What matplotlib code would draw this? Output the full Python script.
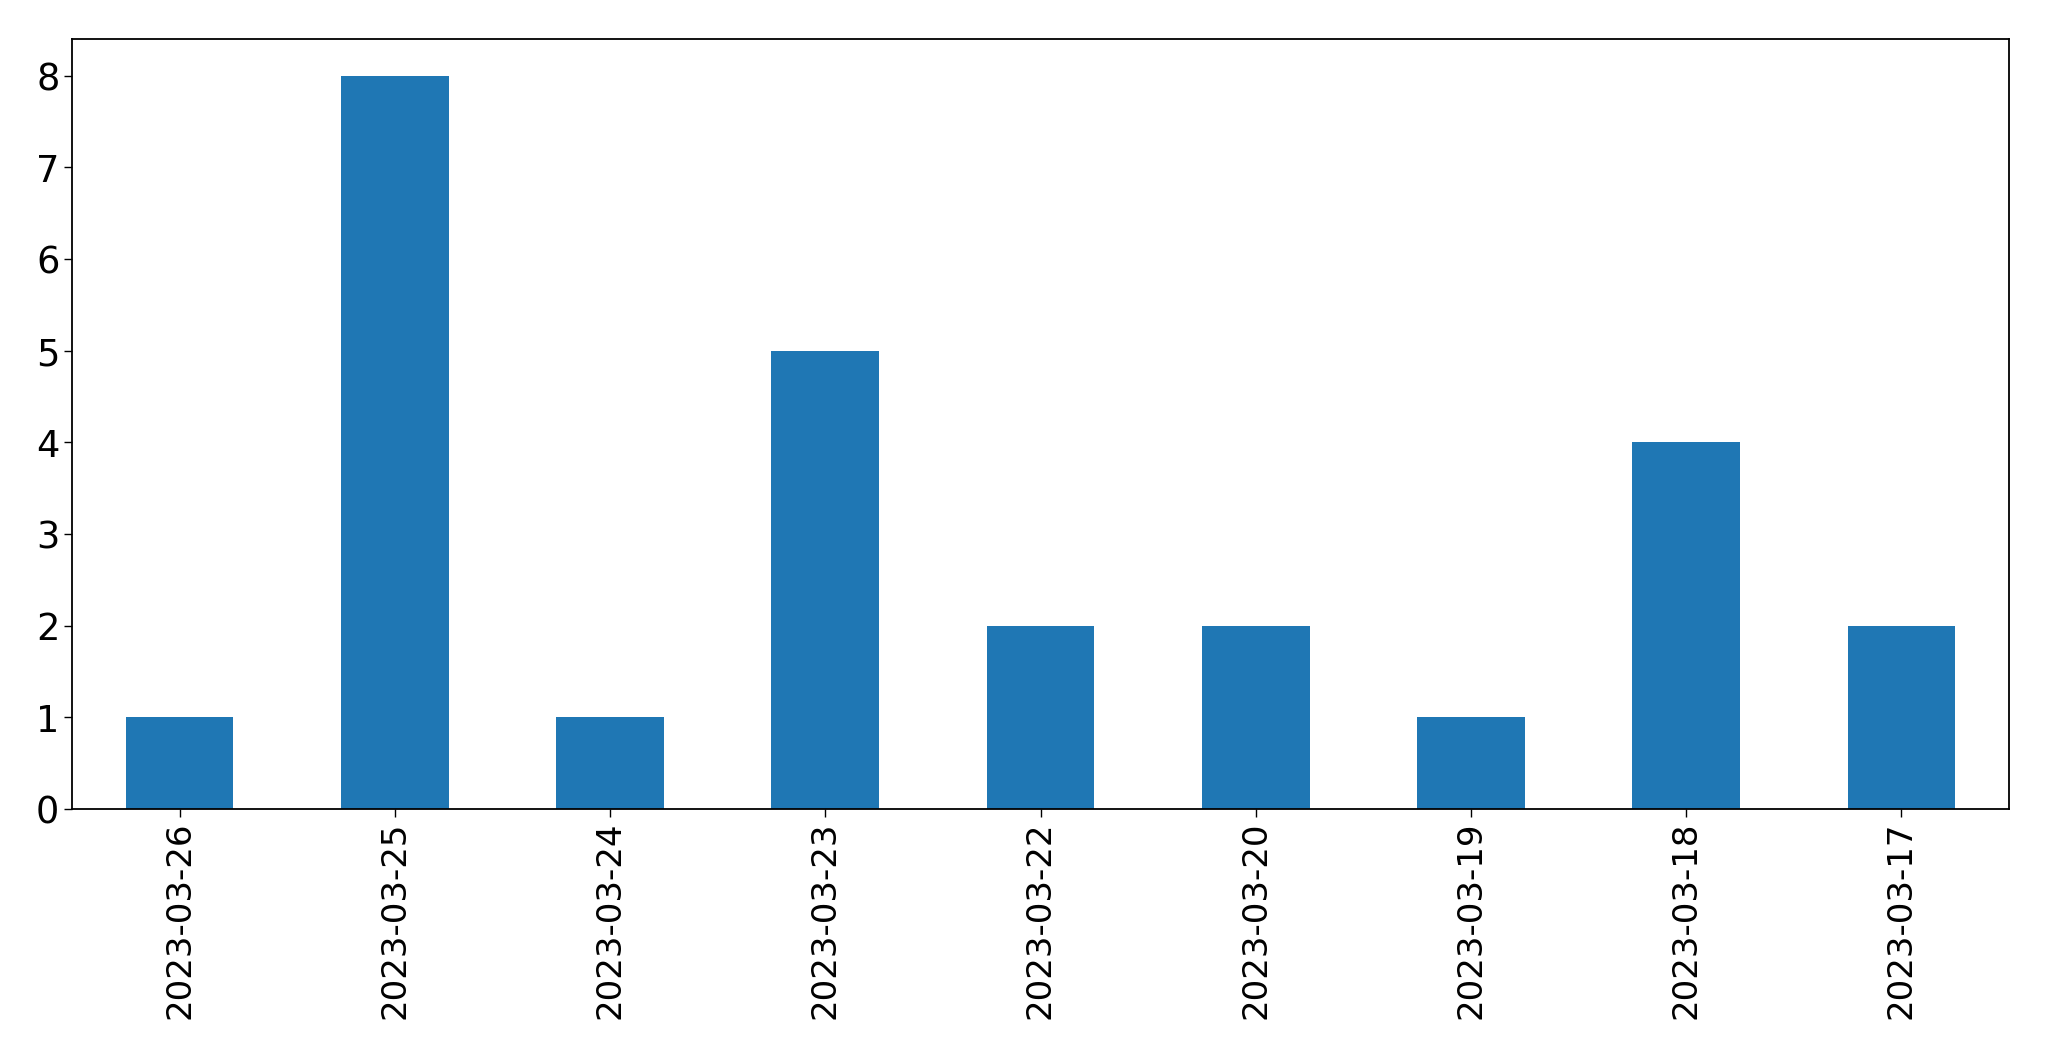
import pandas as pd
import matplotlib
matplotlib.use("Agg")
from matplotlib import pyplot as plt

dates = ['2023-03-26', '2023-03-25', '2023-03-24', '2023-03-23', '2023-03-22',
         '2023-03-20', '2023-03-19', '2023-03-18', '2023-03-17']
counts = [1, 8, 1, 5, 2, 2, 1, 4, 2]

W, H = 2049, 1061
fig = plt.figure(figsize=(W / 100, H / 100), dpi=100)
ax = fig.add_axes([72 / W, 1 - 809 / H, (2009 - 72) / W, (809 - 39) / H])

s = pd.Series(counts, index=dates)
s.plot.bar(ax=ax, color='#1f77b4')

ax.tick_params(axis='both', length=5.5, width=1)
ax.tick_params(axis='y', labelsize=26.5)
ax.tick_params(axis='x', labelsize=24.5)
for sp in ax.spines.values():
    sp.set_linewidth(1.3)

fig.savefig('out.png', dpi=100)
